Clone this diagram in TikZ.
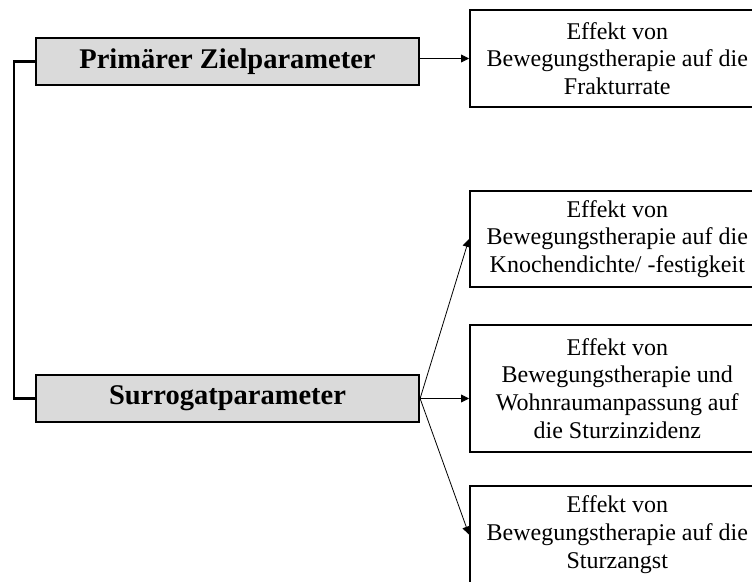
\documentclass[tikz,border=0pt]{standalone}
\usepackage{fontspec}
\setmainfont{Liberation Serif}
\usepackage{tikz}
\usetikzlibrary{arrows.meta, positioning}
\definecolor{boxgray}{RGB}{218, 218, 218}

\begin{document}
\begin{tikzpicture}[
    x=1pt, y=-1pt,
    param/.style={rectangle, draw=black, fill=boxgray, line width=2.2pt,
                  minimum width=383pt, minimum height=47pt, inner sep=0pt,
                  font=\fontsize{28.5}{32}\selectfont\bfseries},
    effect/.style={rectangle, draw=black, line width=1.6pt, anchor=west,
                   minimum width=295pt, align=center, inner sep=0pt,
                   font=\fontsize{24}{27.7}\selectfont},
    arrow/.style={-{Triangle[length=8pt, width=8pt]}, line width=0.8pt},
    bracket/.style={line width=2.5pt}
]
\useasboundingbox (0,0) rectangle (752,581);

% Parameter
\node[param] (prim) at (227.5,61.5) {Primärer Zielparameter};
\node[param] (surr) at (227.5,398.5) {Surrogatparameter};

% Effekte
\node[effect, minimum height=97pt] (fraktur) at (469,58.5)
    {Effekt von\\Bewegungstherapie auf die\\Frakturrate};
\node[effect, minimum height=96pt] (knochen) at (469,239)
    {Effekt von\\Bewegungstherapie auf die\\Knochendichte/ -festigkeit};
\node[effect, minimum height=127pt] (inzidenz) at (469,388.5)
    {Effekt von\\Bewegungstherapie und\\Wohnraumanpassung auf\\die Sturzinzidenz};
\node[effect, minimum height=97pt] (angst) at (469,534.5)
    {Effekt von\\Bewegungstherapie auf die\\Sturzangst};

% Klammer
\draw[bracket] (prim.west) -- ++(-21,0) |- (surr.west);

% Pfeile
\draw[arrow] (prim.east |- fraktur.west) -- (fraktur.west);
\draw[arrow] (surr.east) -- (knochen.west);
\draw[arrow] (surr.east) -- (surr.east -| inzidenz.west);
\draw[arrow] (surr.east) -- (angst.west);

\end{tikzpicture}
\end{document}
